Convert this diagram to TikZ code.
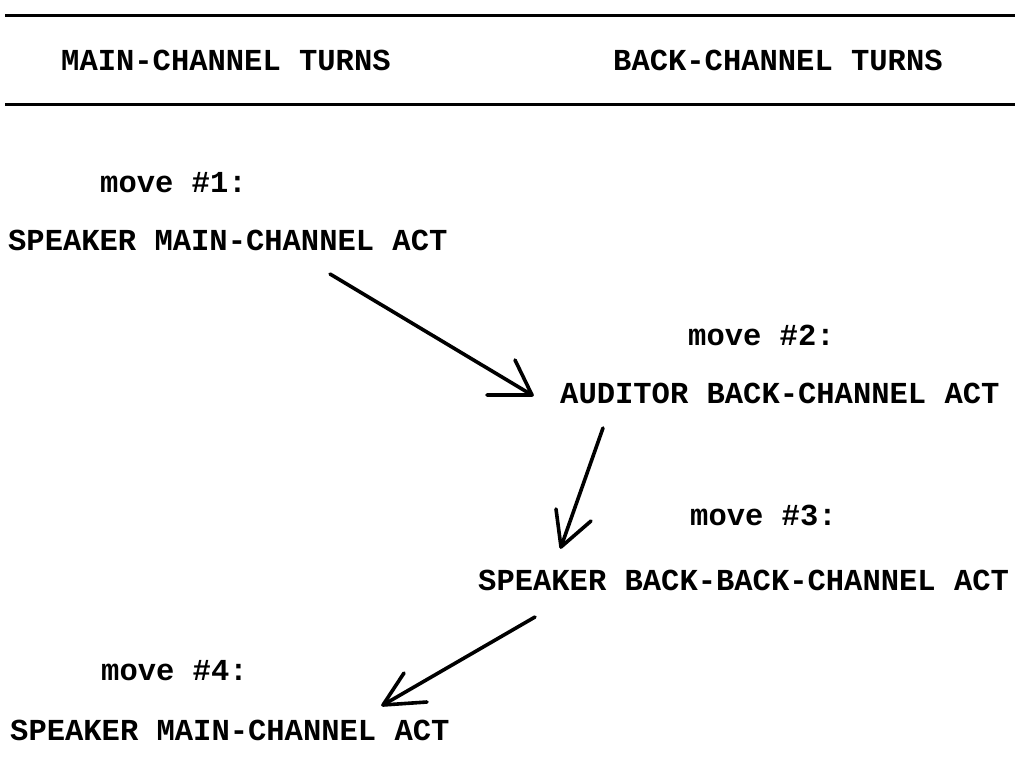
\documentclass[tikz,border=0pt]{standalone}
\usepackage{fontspec}
\setmonofont{Liberation Mono}
\begin{document}
\begin{tikzpicture}[x=1pt,y=-1pt,
  lbl/.style={anchor=base west,inner sep=0pt,font=\ttfamily\bfseries\fontsize{30.5}{30.5}\selectfont},
  rule/.style={line width=3pt},
  hand/.style={line width=3.6pt,line cap=round,line join=round}]
\useasboundingbox (0,0) rectangle (1020,771);

% header rules and column titles
\draw[rule] (5,15) -- (1015,15);
\draw[rule] (5,104) -- (1015,104);
\node[lbl] (hmain) at (61,70) {MAIN-CHANNEL TURNS};
\node[lbl] (hback) at (613,70) {BACK-CHANNEL TURNS};

% the four moves
\node[lbl] (m1) at (100,192) {move \#1:};
\node[lbl] (a1) at (8,250) {SPEAKER MAIN-CHANNEL ACT};
\node[lbl] (m2) at (688,345) {move \#2:};
\node[lbl] (a2) at (560,403) {AUDITOR BACK-CHANNEL ACT};
\node[lbl] (m3) at (690,525) {move \#3:};
\node[lbl] (a3) at (478,590) {SPEAKER BACK-BACK-CHANNEL ACT};
\node[lbl] (m4) at (101,680) {move \#4:};
\node[lbl] (a4) at (10,740) {SPEAKER MAIN-CHANNEL ACT};

% hand-drawn arrows between the acts
\coordinate (s1) at (330,274);
\coordinate (t1) at (532,395);
\coordinate (h1a) at (487,395);
\coordinate (h1b) at (515,360);
\draw[hand] (s1) -- (t1);
\draw[hand] (h1a) -- (t1) -- (h1b);

\coordinate (s2) at (603,428);
\coordinate (t2) at (561,547);
\coordinate (h2a) at (556,509);
\coordinate (h2b) at (591,521);
\draw[hand] (s2) -- (t2);
\draw[hand] (h2a) -- (t2) -- (h2b);

\coordinate (s3) at (535,617);
\coordinate (t3) at (383,705);
\coordinate (h3a) at (404,673);
\coordinate (h3b) at (427,702);
\draw[hand] (s3) -- (t3);
\draw[hand] (h3a) -- (t3) -- (h3b);
\end{tikzpicture}
\end{document}
